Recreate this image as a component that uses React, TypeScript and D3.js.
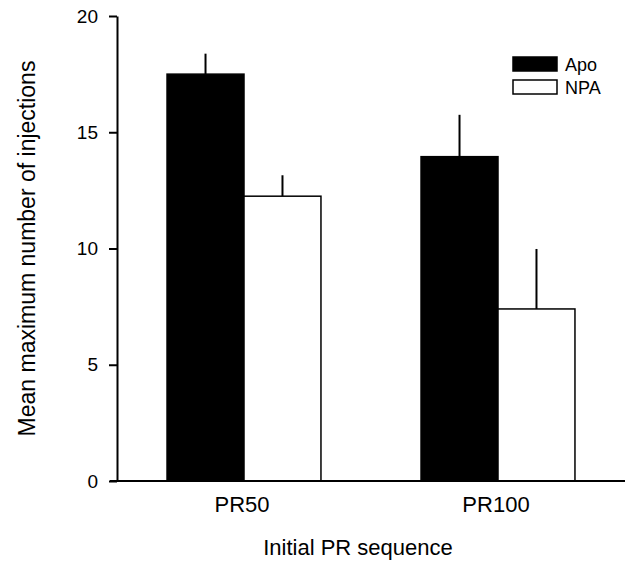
import { useEffect, useRef } from 'react';
import * as d3 from 'd3';

const categories = ['PR50', 'PR100'];
const seriesNames = ['Apo', 'NPA'];
const apoMeans = [17.5, 13.95];
const apoErrors = [0.88, 1.8];
const npaMeans = [12.25, 7.4];
const npaErrors = [0.9, 2.58];
const yTicks = [0, 5, 10, 15, 20];

const width = 625;
const height = 565;
const margin = { top: 16, right: 0, bottom: 84, left: 117 };
const font = 'Arial, "Liberation Sans", Helvetica, sans-serif';

const App = () => {
  const yAxisRef = useRef<SVGGElement>(null);

  const x = d3
    .scaleBand()
    .domain(categories)
    .range([margin.left, width - margin.right])
    .paddingInner(0.394)
    .paddingOuter(0.197);
  const xInner = d3.scaleBand().domain(seriesNames).range([0, x.bandwidth()]);
  const y = d3
    .scaleLinear()
    .domain([0, 20])
    .range([height - margin.bottom, margin.top]);

  const rows = categories.flatMap((cat, i) => [
    { cat, name: 'Apo', mean: apoMeans[i], err: apoErrors[i], fill: '#000' },
    { cat, name: 'NPA', mean: npaMeans[i], err: npaErrors[i], fill: '#fff' },
  ]);

  useEffect(() => {
    const g = d3.select(yAxisRef.current);
    g.selectAll('*').remove();
    g.call(
      d3
        .axisLeft(y)
        .tickValues(yTicks)
        .tickSize(8)
        .tickSizeOuter(0)
        .tickPadding(11)
    );
    g.select('.domain').attr('stroke-width', 2);
    g.selectAll('.tick line').attr('stroke-width', 2);
    g.selectAll('.tick text')
      .attr('font-size', 19)
      .attr('font-family', font)
      .attr('fill', '#000');
  }, []);

  return (
    <svg
      width={width}
      height={height}
      style={{ position: 'absolute', left: 0, top: 0, background: '#fff' }}
    >
      {rows.map((d) => {
        const bx = (x(d.cat) ?? 0) + (xInner(d.name) ?? 0);
        const bw = xInner.bandwidth();
        return (
          <g key={d.cat + d.name}>
            <line
              x1={bx + bw / 2}
              x2={bx + bw / 2}
              y1={y(d.mean)}
              y2={y(d.mean + d.err)}
              stroke="#000"
              strokeWidth={2}
            />
            <rect
              x={bx}
              y={y(d.mean)}
              width={bw}
              height={y(0) - y(d.mean)}
              fill={d.fill}
              stroke="#000"
              strokeWidth={1.5}
            />
          </g>
        );
      })}

      <g ref={yAxisRef} transform={`translate(${margin.left},0)`} />
      <line
        x1={margin.left - 7}
        x2={width}
        y1={y(0)}
        y2={y(0)}
        stroke="#000"
        strokeWidth={2}
      />

      {categories.map((c) => (
        <text
          key={c}
          x={(x(c) ?? 0) + x.bandwidth() / 2 - 2}
          y={512}
          textAnchor="middle"
          fontSize={22}
          fontFamily={font}
        >
          {c}
        </text>
      ))}

      <text
        x={358}
        y={555}
        textAnchor="middle"
        fontSize={22}
        fontFamily={font}
      >
        Initial PR sequence
      </text>
      <text
        transform={`translate(35,${(y(0) + y(20)) / 2}) rotate(-90)`}
        textAnchor="middle"
        fontSize={23}
        fontFamily={font}
      >
        Mean maximum number of injections
      </text>

      {seriesNames.map((name, i) => (
        <g key={name} transform={`translate(513,${57 + i * 23})`}>
          <rect
            width={44}
            height={14}
            fill={i === 0 ? '#000' : '#fff'}
            stroke="#000"
            strokeWidth={1.5}
          />
          <text x={52} y={14} fontSize={18} fontFamily={font}>
            {name}
          </text>
        </g>
      ))}
    </svg>
  );
};

export default App;
